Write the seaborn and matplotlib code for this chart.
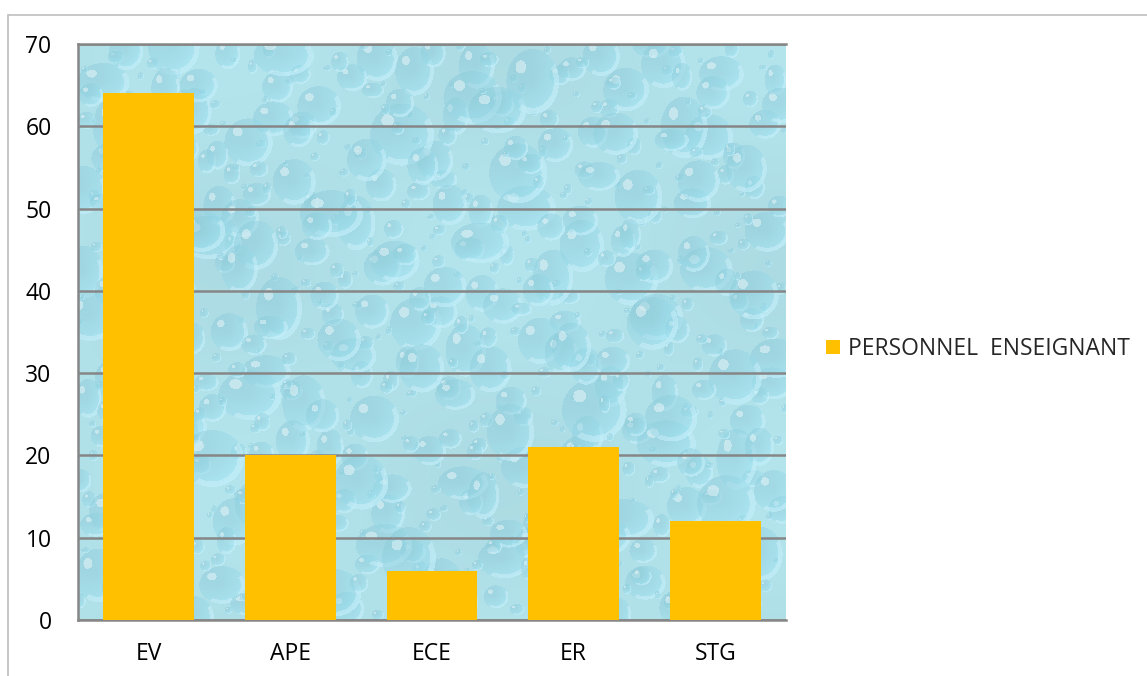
import numpy as np
import pandas as pd
import matplotlib
matplotlib.use("Agg")
import matplotlib.pyplot as plt
from matplotlib.lines import Line2D
import seaborn as sns

# Data
categories = ["EV", "APE", "ECE", "ER", "STG"]
values = [64, 20, 6, 21, 12]
series_name = "PERSONNEL  ENSEIGNANT"
y_ticks = [0, 10, 20, 30, 40, 50, 60, 70]

df = pd.DataFrame({"categorie": categories, "effectif": values})

sns.set_theme(style="white")
plt.rcParams["font.family"] = ["Open Sans", "DejaVu Sans"]

fig = plt.figure(figsize=(11.47, 6.76), dpi=100)
ax = fig.add_axes([78 / 1147, 56 / 676, 708 / 1147, 576 / 676])


def halton(i, base):
    f, r = 1.0, 0.0
    while i > 0:
        f /= base
        r += f * (i % base)
        i //= base
    return r


# Water-drop texture for the plot area background
H, W = 576, 708
base = np.array([180, 229, 237]) / 255.0
img = np.ones((H, W, 3)) * base
yy, xx = np.mgrid[0:H, 0:W].astype(float)
img *= (0.98 + 0.02 * np.sin(xx / 90.0) * np.cos(yy / 70.0))[..., None]
n_drops = 650
drop_col = np.array([140, 203, 218]) / 255.0
for i in range(1, n_drops + 1):
    cx = halton(i, 2) * W
    cy = halton(i, 3) * H
    s = halton(i, 5)
    r = 3 + 24 * s ** 2.4
    rx = r * (0.8 + 0.5 * halton(i, 7))
    ry = r * (0.8 + 0.5 * halton(i, 11))
    x0, x1 = int(max(cx - rx - 2, 0)), int(min(cx + rx + 3, W))
    y0, y1 = int(max(cy - ry - 2, 0)), int(min(cy + ry + 3, H))
    if x1 <= x0 or y1 <= y0:
        continue
    sx = (xx[y0:y1, x0:x1] - cx) / rx
    sy = (yy[y0:y1, x0:x1] - cy) / ry
    d = np.sqrt(sx ** 2 + sy ** 2)
    inside = d < 1
    patch = img[y0:y1, x0:x1]
    shade = 0.85 + 0.10 * (sx + sy) / 2 + 0.06 * d
    body = np.clip(drop_col[None, None, :] * shade[..., None] / 0.85, 0, 1)
    mix = np.where(inside, 0.45, 0.0)[..., None]
    patch[:] = patch * (1 - mix) + body * mix
    rim = (d > 0.8) & (d < 1.0) & ((sx + sy) > 0.3)
    patch[rim] = patch[rim] * 0.7 + 0.3 * np.array([0.92, 0.98, 1.0])
    hl = ((sx + 0.45) ** 2 + (sy + 0.45) ** 2) < 0.04
    patch[hl & inside] = patch[hl & inside] * 0.6 + 0.4
img = np.clip(img, 0, 1)

ax.imshow(img, extent=(-0.5, len(categories) - 0.5, 0, 70), aspect="auto",
          zorder=0, interpolation="bilinear")

sns.barplot(data=df, x="categorie", y="effectif", color="#FFC000",
            saturation=1, width=0.64, linewidth=0, ax=ax, zorder=3)

ax.set_xlim(-0.5, len(categories) - 0.5)
ax.set_ylim(0, 70)
ax.set_yticks(y_ticks)
ax.yaxis.grid(True, color="#868686", linewidth=1.8)
ax.set_axisbelow(True)
for ln in ax.get_ygridlines():
    ln.set_zorder(1)
ax.set_xlabel("")
ax.set_ylabel("")
for side in ["left", "bottom", "top", "right"]:
    ax.spines[side].set_color("#868686")
    ax.spines[side].set_linewidth(1.8)
ax.spines["right"].set_visible(False)
ax.tick_params(axis="y", length=0, pad=19, labelsize=16.5, labelcolor="black")
ax.tick_params(axis="x", length=0, pad=16, labelsize=16.5, labelcolor="black")

fig.legend(handles=ax.patches[:1], labels=[series_name],
           loc="center left", bbox_to_anchor=(826 / 1147, 1 - 349 / 676),
           frameon=False, fontsize=16.5, handlelength=0.6, handleheight=0.6,
           handletextpad=0.35, borderaxespad=0, borderpad=0)

# Chart outer frame (top and left edges)
fig.add_artist(Line2D([8 / 1147, 1.0], [1 - 15 / 676, 1 - 15 / 676],
                      transform=fig.transFigure, color="#BFBFBF", linewidth=1.2))
fig.add_artist(Line2D([8 / 1147, 8 / 1147], [0.0, 1 - 15 / 676],
                      transform=fig.transFigure, color="#BFBFBF", linewidth=1.2))

fig.savefig("out.png", dpi=100, facecolor="white")
